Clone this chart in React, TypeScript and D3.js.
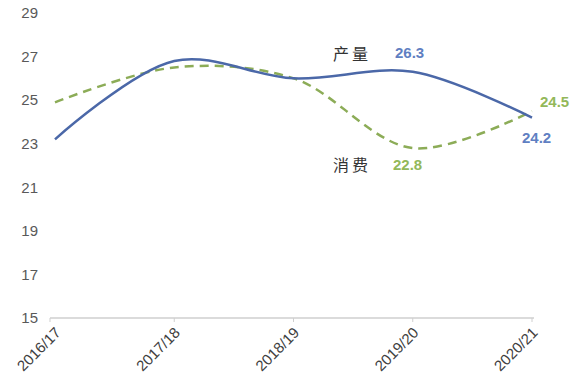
import React from "react";
import * as d3 from "d3";

const categories = ["2016/17", "2017/18", "2018/19", "2019/20", "2020/21"];
const production = [23.2, 26.8, 26.0, 26.3, 24.2];
const consumption = [24.9, 26.5, 26.0, 22.8, 24.5];
const yTicks = [15, 17, 19, 21, 23, 25, 27, 29];

const W = 577;
const H = 378;
const BLUE = "#4b68a8";
const BLUE_TXT = "#5f7fc2";
const GREEN = "#8cac57";
const GREEN_TXT = "#93b85a";

export default function App() {
  const x = d3.scalePoint<string>().domain(categories).range([55, 532]);
  const y = d3.scaleLinear().domain([15, 29]).range([318, 13]);
  const line = d3
    .line<number>()
    .x((_, i) => x(categories[i]) as number)
    .y((d) => y(d))
    .curve(d3.curveCatmullRom.alpha(0.5));
  const last = categories.length - 1;
  const font = "Liberation Sans, Arial, sans-serif";
  const cjk = "Noto Sans CJK SC";
  return (
    <svg
      width={W}
      height={H}
      style={{ position: "absolute", left: 0, top: 0, background: "#fff" }}
      fontFamily={font}
    >
      {yTicks.map((t) => (
        <text key={t} x={38} y={y(t)} dy="0.35em" textAnchor="end" fontSize={15} fill="#595959">
          {t}
        </text>
      ))}
      <line x1={50} x2={534} y1={y(15)} y2={y(15)} stroke="#cfcfcf" strokeWidth={1.5} />
      {categories.map((c, i) => (
        <g key={c}>
          <line x1={x(c)! - (i === 0 ? 5 : 0)} x2={x(c)! - (i === 0 ? 5 : 0)} y1={y(15)} y2={y(15) + 4} stroke="#cfcfcf" />
          <text
            transform={`translate(${x(c)! + 3},${y(15) + 12}) rotate(-45)`}
            textAnchor="end"
            dy="0.35em"
            fontSize={15}
            fill="#404040"
          >
            {c}
          </text>
        </g>
      ))}
      <path d={line(consumption) || ""} fill="none" stroke={GREEN} strokeWidth={2.5} strokeDasharray="9,6" />
      <path d={line(production) || ""} fill="none" stroke={BLUE} strokeWidth={2.5} />
      <text x={333} y={54} dy="0.35em" fontSize={16} letterSpacing={3} fill="#333" fontFamily={cjk}>产量</text>
      <text x={395} y={53} dy="0.35em" fontSize={15} fontWeight="bold" fill={BLUE_TXT}>{production[3]}</text>
      <text x={333} y={165} dy="0.35em" fontSize={16} letterSpacing={3} fill="#333" fontFamily={cjk}>消费</text>
      <text x={393} y={165} dy="0.35em" fontSize={15} fontWeight="bold" fill={GREEN_TXT}>{consumption[3]}</text>
      <text x={540} y={102} dy="0.35em" fontSize={15} fontWeight="bold" fill={GREEN_TXT}>{consumption[last]}</text>
      <text x={522} y={138} dy="0.35em" fontSize={15} fontWeight="bold" fill={BLUE_TXT}>{production[last]}</text>
    </svg>
  );
}
